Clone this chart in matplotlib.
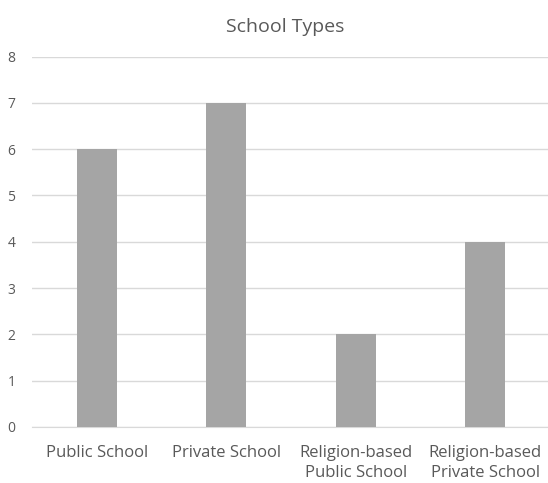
import matplotlib.pyplot as plt

categories = ["Public School", "Private School",
              "Religion-based\nPublic School", "Religion-based\nPrivate School"]
values = [6, 7, 2, 4]
y_ticks = [0, 1, 2, 3, 4, 5, 6, 7, 8]

plt.rcParams["font.family"] = ["Open Sans", "DejaVu Sans"]

fig = plt.figure(figsize=(5.48, 4.83), dpi=100)
ax = fig.add_axes([32 / 548, 1 - 427 / 483, 518 / 548, (427 - 56.5) / 483])

ax.bar(range(len(categories)), values, width=0.31, color="#A5A5A5", zorder=3)

ax.set_xlim(-0.5, len(categories) - 0.5)
ax.set_ylim(0, 8)
ax.set_yticks(y_ticks)
ax.set_xticks(range(len(categories)))
ax.set_xticklabels(categories, fontsize=12, color="#595959", linespacing=1.35)
ax.tick_params(axis="y", labelsize=10, labelcolor="#595959", length=0, pad=12)
ax.tick_params(axis="x", length=0, pad=13)

ax.grid(axis="y", color="#D9D9D9", linewidth=1, zorder=0)
for s in ["top", "right", "left"]:
    ax.spines[s].set_visible(False)
ax.spines["bottom"].set_color("#D9D9D9")

fig.text(0.52, 0.944, "School Types", ha="center", va="center",
         fontsize=14, color="#595959")

fig.savefig("out.png", dpi=100)
